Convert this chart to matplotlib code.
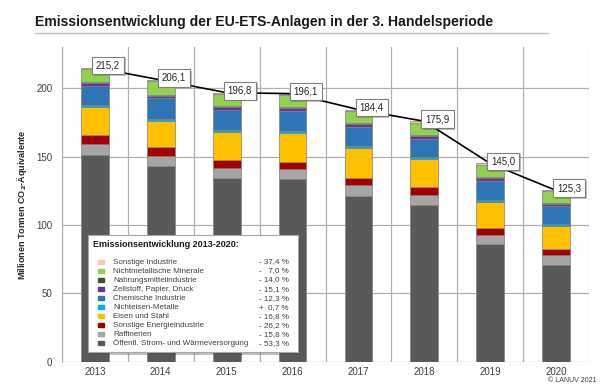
import matplotlib.pyplot as plt
import numpy as np
from matplotlib.patches import Rectangle
import matplotlib.patheffects as pe

plt.rcParams['font.family'] = ['Liberation Sans', 'DejaVu Sans']

years = ['2013', '2014', '2015', '2016', '2017', '2018', '2019', '2020']

# Stacks, bottom to top (Mio. t CO2-Aeq.)
oeffentl = [151.3, 143.5, 134.7, 133.4, 121.4, 114.5, 85.9, 71.0]
raffinerien = [8.0, 7.3, 7.3, 7.5, 7.7, 7.5, 6.8, 6.8]
sonst_energie = [6.5, 6.0, 5.3, 5.4, 5.4, 5.6, 5.3, 4.8]
eisen_stahl = [20.2, 19.6, 20.7, 21.0, 21.5, 20.7, 19.0, 16.8]
nichteisen = [1.5, 1.5, 1.5, 1.5, 1.5, 1.5, 1.5, 1.5]
chemie = [14.5, 14.7, 14.6, 14.6, 14.2, 13.4, 13.6, 12.7]
zellstoff = [2.0, 2.0, 2.0, 2.0, 2.0, 2.0, 2.0, 1.7]
nahrung = [0.7, 0.7, 0.7, 0.7, 0.7, 0.7, 0.7, 0.6]
minerale = [9.5, 9.8, 9.0, 9.0, 9.0, 9.0, 9.2, 8.8]
sonst_industrie = [1.0, 1.0, 1.0, 1.0, 1.0, 1.0, 1.0, 0.6]

totals = [215.2, 206.1, 196.8, 196.1, 184.4, 175.9, 145.0, 125.3]

series = [oeffentl, raffinerien, sonst_energie, eisen_stahl, nichteisen,
          chemie, zellstoff, nahrung, minerale, sonst_industrie]
colors = ['#595959', '#a6a6a6', '#a50000', '#ffc000', '#00b0f0',
          '#2e75b6', '#7030a0', '#375623', '#92d050', '#f8cbad']

legend_names = ['Sonstige Industrie', 'Nichtmetallische Minerale', 'Nahrungsmittelindustrie',
                'Zellstoff, Papier, Druck', 'Chemische Industrie', 'Nichteisen-Metalle',
                'Eisen und Stahl', 'Sonstige Energieindustrie', 'Raffinerien',
                'Öffentl. Strom- und Wärmeversorgung']
legend_pct = ['- 37,4 %', '-   7,0 %', '- 14,0 %', '- 15,1 %', '- 12,3 %',
              '+  0,7 %', '- 16,8 %', '- 26,2 %', '- 15,8 %', '- 53,3 %']

fig = plt.figure(figsize=(6.05, 3.89), dpi=100)
ax = fig.add_axes([62/605, 1-361.7/389, 527/605, 314.4/389])

x = np.arange(len(years))
bottom = np.zeros(len(years))
for vals, c in zip(series, colors):
    ax.bar(x, vals, 0.42, bottom=bottom, color=c, edgecolor='#808080', linewidth=0.5, zorder=3)
    bottom += np.array(vals)

ax.plot(x, totals, color='black', lw=1.2, zorder=4)
for xi, t in zip(x, totals):
    ax.text(xi + 0.2, t + 1.5, f'{t:.1f}'.replace('.', ','), ha='center', va='center',
            fontsize=7, color='#262626', zorder=5,
            bbox=dict(boxstyle='square,pad=0.4', fc='white', ec='#7f7f7f', lw=0.8,
                      path_effects=[pe.withSimplePatchShadow(offset=(1.2, -1.2), alpha=0.35)]))

ax.set_xlim(-0.5, 7.5)
ax.set_ylim(0, 230)
ax.set_yticks([0, 50, 100, 150, 200])
ax.set_xticks(x)
ax.set_xticklabels(years)
ax.set_xticks(np.arange(-0.5, 8, 1), minor=True)
ax.grid(axis='y', color='#b0b0b0', lw=0.9, zorder=0)
ax.grid(axis='x', which='minor', color='#b0b0b0', lw=0.9, zorder=0)
ax.tick_params(axis='both', which='both', length=0, labelsize=7, colors='#404040', pad=4)
ax.tick_params(axis='y', pad=7)
for s in ['top', 'right', 'bottom']:
    ax.spines[s].set_visible(False)
ax.spines['left'].set_color('#b0b0b0')

ax.set_ylabel('Millionen Tonnen CO$_{\\mathbf{2}}$-Äquivalente', fontsize=6.5,
              fontweight='bold', color='#262626', labelpad=5)

# title and underline
fig.text(35/605, 1-22/389, 'Emissionsentwicklung der EU-ETS-Anlagen in der 3. Handelsperiode',
         fontsize=10.1, fontweight='bold', color='#1a1a1a', va='center', ha='left')
fig.add_artist(plt.Line2D([35/605, 548/605], [1-33/389, 1-33/389], color='#bfbfbf', lw=1))

fig.text(597/605, 1-381/389, '© LANUV 2021', fontsize=5, color='#404040', ha='right', va='center')

# legend box
lax = fig.add_axes([88/605, 1-352/389, 210/605, 117/389], zorder=10)
lax.set_xlim(0, 1)
lax.set_ylim(0, 1)
lax.set_xticks([])
lax.set_yticks([])
lax.patch.set_facecolor('white')
for s in lax.spines.values():
    s.set_color('#a6a6a6')
    s.set_linewidth(0.8)
lax.patch.set_path_effects([pe.withSimplePatchShadow(offset=(2, -2), alpha=0.35)])
lax.text(0.024, 0.923, 'Emissionsentwicklung 2013-2020:', fontsize=6.5, fontweight='bold',
         color='#1a1a1a', va='center')
leg_colors = colors[::-1]
for i, (name, pct, c) in enumerate(zip(legend_names, legend_pct, leg_colors)):
    yy = 0.769 - i * 0.077
    lax.add_patch(Rectangle((0.048, yy - 0.018), 0.028, 0.036, color=c))
    lax.text(0.119, yy, name, fontsize=5.8, color='#404040', va='center')
    lax.text(0.955, yy, pct, fontsize=5.8, color='#404040', va='center', ha='right')

fig.savefig('out.png', dpi=100)
